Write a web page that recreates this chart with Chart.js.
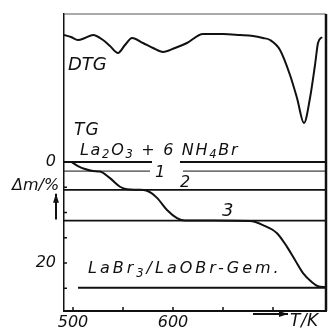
<!DOCTYPE html>
<html>
<head>
<meta charset="utf-8">
<script src="https://cdn.jsdelivr.net/npm/chart.js@4.4.0/dist/chart.umd.min.js"></script>
<style>
  html, body { margin: 0; padding: 0; background: #fff; }
  canvas { display: block; }
</style>
</head>
<body>
<canvas id="thermoChart" width="328" height="334"></canvas>
<script>
// DTG curve (arbitrary units, dips are negative)
const dtgTemp = [491, 498, 505, 512, 520, 530, 537, 545, 552, 559, 570, 580, 590, 602, 614, 630, 650, 667, 680, 690, 697, 707, 717, 724, 731, 737, 742, 745, 749];
const dtgSignal = [0, -2, -5, -3, 0, -5, -11, -18, -10, -3, -8, -13, -17, -13, -8, 1, 1, 0, -1, -3, -5, -15, -40, -63, -88, -63, -30, -8, -2];

// TG curve, mass loss in %
const tgTemp = [499, 505, 512, 520, 527, 537, 547, 554, 565, 574, 584, 594, 604, 612, 640, 677, 690, 704, 714, 722, 730, 739, 745, 753];
const tgLoss = [0.1, 0.8, 1.4, 1.8, 1.9, 3.2, 4.9, 5.4, 5.5, 5.7, 7.1, 9.5, 11.1, 11.6, 11.6, 11.7, 12.5, 14.1, 16.8, 19.4, 22.0, 23.8, 24.6, 24.8];

// plateau lines: mass loss and the temperature spans they are drawn over
const levelLoss = [0, 1.8, 5.5, 11.6, 24.9];
const levelSpans = [
  [[491, 579], [607, 753]],
  [[491, 577], [610, 753]],
  [[491, 753]],
  [[491, 753]],
  [[505, 753]]
];

// axis ticks
const tempTicks = [500, 550, 600, 650, 700];
const tempLabels = [500, 600];
const lossTicks = [0, 5, 10, 15, 20, 25];
const lossLabels = [0, 20];

const INK = "#111";
const FONT = "'DejaVu Sans', sans-serif";

function toPoints(xs, ys) {
  return xs.map((x, i) => ({ x: x, y: ys[i] }));
}

// build plateau line datasets
const levelSets = [];
levelLoss.forEach((loss, i) => {
  levelSpans[i].forEach((span) => {
    levelSets.push({
      data: [{ x: span[0], y: loss }, { x: span[1], y: loss }],
      borderColor: INK,
      borderWidth: i === 1 ? 1 : 1.8,
      pointRadius: 0,
      yAxisID: "y"
    });
  });
});

// draws text made of runs, some of them as subscripts
function drawRuns(ctx, x, y, runs, size, spacing) {
  runs.forEach((r) => {
    const s = r[1] ? size * 0.72 : size;
    ctx.font = "oblique " + s + "px " + FONT;
    ctx.letterSpacing = spacing + "px";
    ctx.fillText(r[0], x, r[1] ? y + size * 0.22 : y);
    x += ctx.measureText(r[0]).width;
  });
}

function arrow(ctx, x1, y1, x2, y2) {
  const a = Math.atan2(y2 - y1, x2 - x1);
  ctx.beginPath();
  ctx.moveTo(x1, y1);
  ctx.lineTo(x2, y2);
  ctx.stroke();
  ctx.beginPath();
  ctx.moveTo(x2, y2);
  ctx.lineTo(x2 - 9 * Math.cos(a) + 3 * Math.sin(a), y2 - 9 * Math.sin(a) - 3 * Math.cos(a));
  ctx.lineTo(x2 - 9 * Math.cos(a) - 3 * Math.sin(a), y2 - 9 * Math.sin(a) + 3 * Math.cos(a));
  ctx.closePath();
  ctx.fill();
}

// frame, inward ticks and all the labels
const decorations = {
  id: "decorations",
  afterDraw(chart) {
    const ctx = chart.ctx;
    const area = chart.chartArea;
    const xs = chart.scales.x;
    const ys = chart.scales.y;
    const y2 = chart.scales.y2;
    ctx.save();
    ctx.strokeStyle = INK;
    ctx.fillStyle = INK;

    // top and right border
    ctx.lineWidth = 1;
    ctx.strokeStyle = "#555";
    ctx.beginPath();
    ctx.moveTo(area.left, area.top);
    ctx.lineTo(area.right, area.top);
    ctx.stroke();
    ctx.strokeStyle = INK;
    ctx.lineWidth = 2.5;
    ctx.beginPath();
    ctx.moveTo(area.right, area.top);
    ctx.lineTo(area.right, area.bottom);
    ctx.stroke();

    // inward ticks
    ctx.lineWidth = 1.5;
    tempTicks.forEach((t) => {
      const px = xs.getPixelForValue(t);
      ctx.beginPath();
      ctx.moveTo(px, area.bottom);
      ctx.lineTo(px, area.bottom - 4);
      ctx.stroke();
    });
    lossTicks.forEach((v) => {
      const py = ys.getPixelForValue(v);
      ctx.beginPath();
      ctx.moveTo(area.left, py);
      ctx.lineTo(area.left + 3, py);
      ctx.stroke();
    });

    ctx.textBaseline = "alphabetic";
    ctx.textAlign = "left";

    drawRuns(ctx, xs.getPixelForValue(495), y2.getPixelForValue(-35), [["DTG"]], 18, 0);
    drawRuns(ctx, xs.getPixelForValue(501), ys.getPixelForValue(-5.35), [["TG"]], 17, 1);
    drawRuns(ctx, xs.getPixelForValue(507), ys.getPixelForValue(-1.4),
      [["La"], ["2", true], ["O"], ["3", true], [" + 6 NH"], ["4", true], ["Br"]], 16, 1.7);
    drawRuns(ctx, xs.getPixelForValue(582), ys.getPixelForValue(3.0), [["1"]], 16, 0);
    drawRuns(ctx, xs.getPixelForValue(607), ys.getPixelForValue(5.0), [["2"]], 16, 0);
    drawRuns(ctx, xs.getPixelForValue(649), ys.getPixelForValue(10.7), [["3"]], 18, 0);
    drawRuns(ctx, xs.getPixelForValue(515), ys.getPixelForValue(22.0),
      [["La"], ["Br"], ["3", true], ["/LaOBr-Gem."]], 16, 3);

    // y axis title with arrow
    drawRuns(ctx, area.left - 52, ys.getPixelForValue(5.5), [["Δm/%"]], 16, 0);
    ctx.lineWidth = 2;
    arrow(ctx, area.left - 8, ys.getPixelForValue(11.4), area.left - 8, ys.getPixelForValue(6.3));

    // x axis title with arrow
    arrow(ctx, xs.getPixelForValue(680), area.bottom + 3, xs.getPixelForValue(715), area.bottom + 3);
    drawRuns(ctx, xs.getPixelForValue(717), area.bottom + 15, [["T/K"]], 17, 0.5);

    ctx.restore();
  }
};

new Chart("thermoChart", {
  type: "line",
  data: {
    datasets: [
      {
        data: toPoints(dtgTemp, dtgSignal),
        borderColor: INK,
        borderWidth: 2,
        pointRadius: 0,
        cubicInterpolationMode: "monotone",
        yAxisID: "y2"
      },
      {
        data: toPoints(tgTemp, tgLoss),
        borderColor: INK,
        borderWidth: 2,
        pointRadius: 0,
        cubicInterpolationMode: "monotone",
        yAxisID: "y"
      }
    ].concat(levelSets)
  },
  options: {
    responsive: false,
    animation: false,
    layout: { padding: { top: 14, right: 2, left: 0, bottom: 0 } },
    plugins: {
      legend: { display: false },
      tooltip: { enabled: false }
    },
    scales: {
      x: {
        type: "linear",
        min: 491,
        max: 753,
        afterBuildTicks: (scale) => { scale.ticks = tempTicks.map((v) => ({ value: v })); },
        afterFit: (scale) => {
          scale.height = 23;
          scale.paddingLeft = 0;
          scale.paddingRight = 0;
        },
        grid: { display: false, drawTicks: false },
        border: { display: true, color: INK, width: 2 },
        ticks: {
          padding: 2,
          color: INK,
          font: { family: FONT, size: 16, style: "italic" },
          callback: (v) => (tempLabels.includes(v) ? String(v) : "")
        }
      },
      y: {
        type: "linear",
        reverse: true,
        min: -29.3,
        max: 29.5,
        afterBuildTicks: (scale) => { scale.ticks = lossTicks.map((v) => ({ value: v })); },
        afterFit: (scale) => {
          scale.width = 64;
          scale.paddingTop = 0;
          scale.paddingBottom = 0;
        },
        grid: { display: false, drawTicks: false },
        border: { display: true, color: INK, width: 1.5 },
        ticks: {
          padding: 8,
          color: INK,
          font: { family: FONT, size: 16, style: "italic" },
          callback: (v) => (lossLabels.includes(v) ? String(v) : "")
        }
      },
      y2: {
        type: "linear",
        display: false,
        min: -276,
        max: 21
      }
    }
  },
  plugins: [decorations]
});
</script>
</body>
</html>
